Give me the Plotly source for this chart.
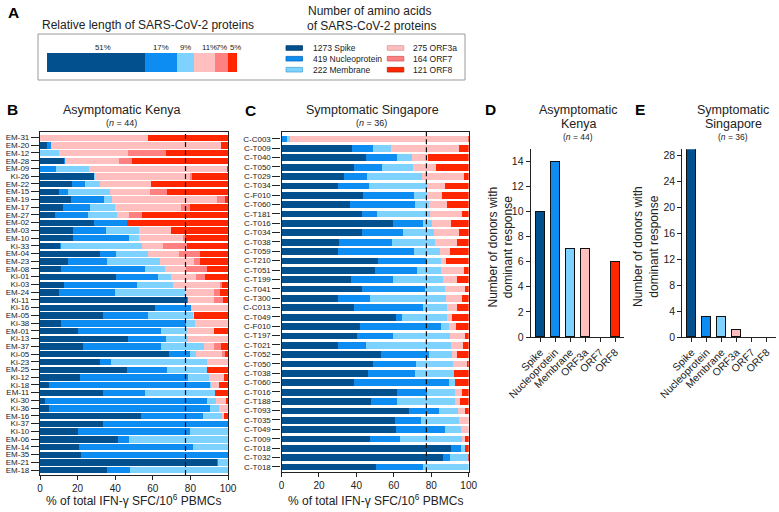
import plotly.graph_objects as go

W, H = 779, 512

# ---------------- data ----------------
proteins = ["Spike", "Nucleoprotein", "Membrane", "ORF3a", "ORF7", "ORF8"]
aa_lengths = [1273, 419, 222, 275, 164, 121]
aa_pct_labels = ["51%", "17%", "9%", "11%", "7%", "5%"]
colors = ["#03508F", "#0D8CF2", "#7DD2FF", "#FFBFBF", "#FF8080", "#FF2600"]
edge_colors = ["#023A68", "#0A6BBA", "#4FA8D8", "#D99A9A", "#D05A5A", "#C01C00"]

kenya_donors = ["EM-31", "EM-20", "EM-12", "EM-28", "EM-09", "Ki-26", "EM-22", "EM-15", "EM-19", "EM-17",
                "EM-27", "EM-02", "EM-03", "EM-10", "Ki-33", "EM-04", "EM-23", "EM-08", "Ki-01", "Ki-03",
                "EM-24", "Ki-11", "Ki-16", "EM-05", "Ki-38", "EM-01", "Ki-13", "EM-37", "Ki-05", "Ki-23",
                "EM-25", "Ki-12", "Ki-18", "EM-11", "Ki-30", "Ki-36", "EM-16", "Ki-37", "Ki-10", "EM-06",
                "EM-14", "EM-35", "EM-21", "EM-18"]
kenya_spike = [0, 3.5, 0, 12.9, 0, 28.8, 17.0, 9.9, 16.3, 12.4,
               8.1, 28.7, 17.5, 17.5, 10.8, 31.9, 15.0, 11.2, 40.4, 12.7,
               10.1, 78.4, 61.1, 33.3, 11.0, 20.0, 46.9, 23.0, 68.7, 31.9,
               46.5, 21.2, 4.6, 33.3, 2.7, 4.8, 53.6, 33.3, 20.0, 41.6,
               20.9, 21.8, 94.3, 35.9]
kenya_nucleo = [0, 2.3, 0, 0.4, 8.3, 0, 6.9, 5.0, 17.7, 14.0,
                17.6, 17.8, 17.5, 29.8, 0.4, 8.5, 20.4, 44.6, 22.1, 39.0,
                29.9, 0.5, 19.4, 24.0, 66.9, 44.2, 20.0, 41.2, 10.9, 5.6,
                21.3, 57.6, 86.0, 22.8, 86.1, 85.8, 33.1, 66.7, 60.0, 5.8,
                60.5, 78.2, 0.4, 12.2]
kenya_membrane = [0, 0, 10.1, 0, 17.7, 0.4, 8.0, 22.3, 4.4, 13.4,
                  15.0, 0, 17.6, 5.4, 43.3, 16.8, 28.3, 10.9, 7.1, 19.1,
                  37.0, 0, 0, 24.1, 4.4, 14.2, 12.0, 22.9, 3.6, 51.3,
                  21.0, 11.1, 0.2, 37.2, 4.7, 4.4, 10.3, 0, 20.0, 52.6,
                  18.6, 0, 5.3, 51.9]
kenya_orf3a = [57.2, 90.7, 36.8, 28.6, 73.6, 50.5, 27.4, 21.2, 55.9, 35.1,
               6.7, 0, 17.3, 23.6, 11.0, 16.8, 18.2, 11.2, 13.6, 24.8,
               15.6, 13.5, 19.5, 0.4, 17.7, 14.2, 21.1, 5.5, 13.8, 11.2,
               0, 7.8, 4.6, 0, 5.3, 5.0, 0.9, 0, 0, 0,
               0, 0, 0, 0]
kenya_orf7 = [0, 0, 20.0, 6.9, 0, 1.2, 0, 9.4, 3.9, 4.7,
              6.9, 0, 0, 0.7, 12.7, 11.0, 3.1, 11.1, 4.4, 1.4,
              3.0, 4.9, 0, 0, 0, 0, 0, 3.9, 1.2, 0,
              0, 0, 0, 0, 0, 0, 0, 0, 0, 0,
              0, 0, 0, 0]
kenya_orf8 = [42.8, 3.5, 33.1, 51.2, 0.4, 19.1, 40.7, 32.2, 1.8, 20.4,
              45.7, 53.5, 30.1, 23.0, 21.8, 15.0, 15.0, 11.0, 12.4, 3.0,
              4.4, 2.7, 0, 18.2, 0, 7.4, 0, 3.5, 1.8, 0,
              11.2, 2.3, 4.6, 6.7, 1.2, 0, 2.1, 0, 0, 0,
              0, 0, 0, 0]

sing_donors = ["C-C003", "C-T009", "C-T040", "C-T050", "C-T029", "C-T034", "C-F010", "C-T060", "C-T181",
               "C-T016", "C-T034", "C-T038", "C-T059", "C-T210", "C-T051", "C-T199", "C-T041", "C-T300",
               "C-C013", "C-T049", "C-F010", "C-T197", "C-T021", "C-T052", "C-T050", "C-T038", "C-T060",
               "C-T016", "C-T188", "C-T093", "C-T035", "C-T049", "C-T009", "C-T018", "C-T032", "C-T018"]
sing_spike = [0, 37.3, 44.8, 38.2, 33.2, 29.7, 43.0, 36.4, 42.6,
              59.3, 42.6, 30.2, 30.0, 51.5, 49.7, 36.8, 42.6, 30.0,
              38.2, 60.7, 41.4, 40.0, 29.7, 52.8, 48.8, 46.0, 38.2,
              61.6, 47.4, 67.9, 60.2, 61.1, 46.9, 90.4, 86.1, 50.1]
sing_nucleo = [2.5, 11.5, 16.5, 15.1, 12.1, 16.8, 27.5, 34.6, 8.4,
               16.0, 22.1, 28.4, 40.5, 25.6, 22.6, 22.7, 33.8, 17.1,
               37.3, 3.2, 43.3, 19.3, 15.4, 25.7, 22.6, 24.9, 51.0,
               15.7, 14.2, 15.9, 13.9, 25.9, 16.2, 5.0, 3.4, 25.2]
sing_membrane = [2.0, 9.6, 8.3, 16.5, 29.3, 30.8, 7.1, 7.5, 28.0,
                 5.0, 16.5, 23.1, 13.9, 7.6, 12.8, 26.6, 10.6, 40.3,
                 12.4, 24.0, 4.5, 30.4, 45.3, 12.1, 19.9, 20.9, 3.0,
                 15.1, 30.8, 10.3, 20.7, 8.7, 33.5, 2.6, 10.3, 24.7]
sing_orf3a = [95.0, 36.4, 8.6, 12.6, 22.6, 9.7, 7.7, 9.8, 17.3,
              10.1, 13.6, 11.9, 5.3, 2.7, 12.1, 7.2, 10.5, 8.9,
              5.4, 3.0, 3.5, 8.3, 6.4, 2.7, 7.6, 0, 0,
              3.9, 2.6, 3.4, 5.2, 4.3, 0.9, 0, 0, 0]
sing_orf7 = [0] * 36
sing_orf8 = [0.5, 5.2, 21.8, 17.6, 2.8, 13.0, 14.7, 11.7, 3.7,
             9.6, 5.2, 6.4, 10.3, 12.6, 2.8, 6.7, 2.5, 3.7,
             6.7, 9.1, 7.3, 2.0, 3.2, 6.7, 1.1, 8.2, 7.8,
             3.7, 5.0, 2.5, 0, 0, 2.5, 2.0, 0.2, 0]

dominant_kenya = [10, 14, 7, 7, 0, 6]
dominant_singapore = [29, 3, 3, 1, 0, 0]

kenya_n = 44
sing_n = 36
dashed_ref = 77.4   # Spike+N+M share of amino acids (%)

FONT = "Liberation Sans, Arial, sans-serif"
TXT = "#222222"


def px(x):
    return x / W


def py(y):
    return 1 - y / H


fig = go.Figure()

# ---------------- Panel A ----------------
for i, p in enumerate(proteins):
    fig.add_trace(go.Bar(orientation="h", x=[aa_lengths[i]], y=[0], width=1,
                         marker=dict(color=colors[i], line=dict(width=0)),
                         xaxis="x", yaxis="y", showlegend=False, hoverinfo="skip"))

# ---------------- Panels B & C ----------------
kenya_sets = [kenya_spike, kenya_nucleo, kenya_membrane, kenya_orf3a, kenya_orf7, kenya_orf8]
sing_sets = [sing_spike, sing_nucleo, sing_membrane, sing_orf3a, sing_orf7, sing_orf8]
kpos = list(range(len(kenya_donors)))
spos = list(range(len(sing_donors)))
for i, p in enumerate(proteins):
    fig.add_trace(go.Bar(orientation="h", x=kenya_sets[i], y=kpos, width=0.82,
                         marker=dict(color=colors[i], line=dict(width=0)),
                         xaxis="x2", yaxis="y2", showlegend=False, hoverinfo="skip"))
    fig.add_trace(go.Bar(orientation="h", x=sing_sets[i], y=spos, width=0.72,
                         marker=dict(color=colors[i], line=dict(width=0)),
                         xaxis="x3", yaxis="y3", showlegend=False, hoverinfo="skip"))

# ---------------- Panels D & E ----------------
cat = list(range(len(proteins)))
fig.add_trace(go.Bar(x=cat, y=dominant_kenya, width=0.6,
                     marker=dict(color=colors, line=dict(color="#111",
                                                         width=[1 if v > 0 else 0 for v in dominant_kenya])),
                     xaxis="x4", yaxis="y4", showlegend=False, hoverinfo="skip"))
fig.add_trace(go.Bar(x=cat, y=dominant_singapore, width=0.6,
                     marker=dict(color=colors, line=dict(color="#111",
                                                         width=[1 if v > 0 else 0 for v in dominant_singapore])),
                     xaxis="x5", yaxis="y5", showlegend=False, hoverinfo="skip"))

axis_common = dict(showgrid=False, zeroline=False, showline=True, linecolor="#222", linewidth=1.2,
                   ticks="outside", tickcolor="#222", tickwidth=1.1, automargin=False,
                   fixedrange=True)


def tf(size):
    return dict(family=FONT, size=size, color=TXT)


layout = dict(
    width=W, height=H, margin=dict(l=0, r=0, t=0, b=0, pad=0), autosize=False,
    paper_bgcolor="white", plot_bgcolor="white", barmode="stack", bargap=0,
    font=dict(family=FONT, color=TXT),
    xaxis=dict(domain=[px(47), px(237)], range=[0, sum(aa_lengths)], visible=False, anchor="y",
               automargin=False, fixedrange=True),
    yaxis=dict(domain=[py(72), py(53)], range=[-0.5, 0.5], visible=False, anchor="x",
               automargin=False, fixedrange=True),
    xaxis2=dict(domain=[px(40), px(228)], range=[0, 100], tickvals=[0, 20, 40, 60, 80, 100],
                ticklen=4, mirror=True, anchor="y2", tickfont=tf(10), **axis_common),
    yaxis2=dict(domain=[py(475), py(131.7)], range=[43.647, -0.75], tickvals=kpos, ticktext=kenya_donors,
                ticklen=8, mirror=True, anchor="x2", tickfont=tf(8), **axis_common),
    xaxis3=dict(domain=[px(281.5), px(468.7)], range=[0, 100], tickvals=[0, 20, 40, 60, 80, 100],
                ticklen=4, mirror=True, anchor="y3", tickfont=tf(10), **axis_common),
    yaxis3=dict(domain=[py(472.3), py(131.7)], range=[35.587, -0.758], tickvals=spos, ticktext=sing_donors,
                ticklen=8, mirror=True, anchor="x3", tickfont=tf(8), **axis_common),
    xaxis4=dict(domain=[px(530.7), px(624)], range=[-0.64, 5.58], tickvals=cat, ticktext=proteins,
                tickangle=-45, ticklen=4, anchor="y4", tickfont=tf(10.5), **axis_common),
    yaxis4=dict(domain=[py(337), py(148.75)], range=[0, 15], tickvals=[0, 2, 4, 6, 8, 10, 12, 14],
                ticklen=4, anchor="x4", tickfont=tf(10.5), **axis_common),
    xaxis5=dict(domain=[px(682.3), px(776)], range=[-0.627, 5.62], tickvals=cat, ticktext=proteins,
                tickangle=-45, ticklen=4, anchor="y5", tickfont=tf(10.5), **axis_common),
    yaxis5=dict(domain=[py(337), py(149.2)], range=[0, 29], tickvals=[0, 4, 8, 12, 16, 20, 24, 28],
                ticklen=4, anchor="x5", tickfont=tf(10.5), **axis_common),
)
fig.update_layout(**layout)

shapes = []
# Panel A box
shapes.append(dict(type="rect", xref="paper", yref="paper", x0=px(38), x1=px(465), y0=py(80), y1=py(34),
                   line=dict(color="#9a9a9a", width=1), fillcolor="rgba(0,0,0,0)"))
# Legend swatches
leg_rows = [48, 58.7, 69.7]
for i in range(6):
    col = i // 3
    row = i % 3
    x0 = 286 if col == 0 else 387.3
    yc = leg_rows[row]
    shapes.append(dict(type="rect", xref="paper", yref="paper", x0=px(x0), x1=px(x0 + 16.5),
                       y0=py(yc + 2.3), y1=py(yc - 2.3),
                       line=dict(color=edge_colors[i], width=0.8), fillcolor=colors[i]))
# dashed reference lines
for xr, yr in [("x2", "y2 domain"), ("x3", "y3 domain")]:
    shapes.append(dict(type="line", xref=xr, yref=yr, x0=dashed_ref, x1=dashed_ref, y0=0, y1=1,
                       line=dict(color="#111", width=1.2, dash="5px,3px")))
fig.update_layout(shapes=shapes)

ann = []


def text(x, y, s, size, anchor="center", bold=False, angle=0):
    ann.append(dict(x=px(x), y=py(y), xref="paper", yref="paper", text=("<b>%s</b>" % s) if bold else s,
                    showarrow=False, xanchor=anchor, yanchor="middle", textangle=angle,
                    font=dict(family=FONT, size=size, color=TXT if not bold else "#000")))


# panel letters
text(13.5, 12.5, "A", 15.5, bold=True)
text(12, 109.5, "B", 15.5, bold=True)
text(250, 110, "C", 15.5, bold=True)
text(490, 109, "D", 15.5, bold=True)
text(640, 109, "E", 15.5, bold=True)

# Panel A texts
text(148, 25, "Relative length of SARS-CoV-2 proteins", 12)
text(369, 11, "Number of amino acids", 12)
text(371, 25.5, "of SARS-CoV-2 proteins", 12)
label_shift = [7, 0, 0, 4.5, 0.5, 3]
cum = 0
for i in range(6):
    c = cum + aa_lengths[i] / 2
    cum += aa_lengths[i]
    ann.append(dict(x=c, y=py(47), xref="x", yref="paper", text=aa_pct_labels[i], showarrow=False,
                    xanchor="center", yanchor="middle", xshift=label_shift[i],
                    font=dict(family=FONT, size=7.8, color=TXT)))
for i in range(6):
    col = i // 3
    row = i % 3
    xt = 310.7 if col == 0 else 410.7
    text(xt, leg_rows[row], "%d %s" % (aa_lengths[i], proteins[i]), 8.5, anchor="left")

# Panel titles
text(121, 110, "Asymptomatic Kenya", 12.5)
text(121, 123.3, "(<i>n</i> = %d)" % kenya_n, 9)
text(372, 109.5, "Symptomatic Singapore", 12.5)
text(371, 123.3, "(<i>n</i> = %d)" % sing_n, 9)
text(578.3, 110, "Asymptomatic", 12.5)
text(578.3, 123.5, "Kenya", 12.5)
text(578.3, 137.3, "(<i>n</i> = %d)" % kenya_n, 8.5)
text(733, 110, "Symptomatic", 12.5)
text(733, 123.5, "Singapore", 12.5)
text(733, 136.7, "(<i>n</i> = %d)" % sing_n, 8.5)

# axis titles
text(133, 500, "% of total IFN-γ SFC/10<sup>6</sup> PBMCs", 12)
text(375, 500, "% of total IFN-γ SFC/10<sup>6</sup> PBMCs", 12)
text(500.5, 247, "Number of donors with<br>dominant response", 12, angle=-90)
text(646, 247, "Number of donors with<br>dominant response", 12, angle=-90)

fig.update_layout(annotations=ann)
fig.write_html("out.html", config={"displayModeBar": False},
               post_script="document.body.style.margin='0px';document.body.style.padding='0px';")
